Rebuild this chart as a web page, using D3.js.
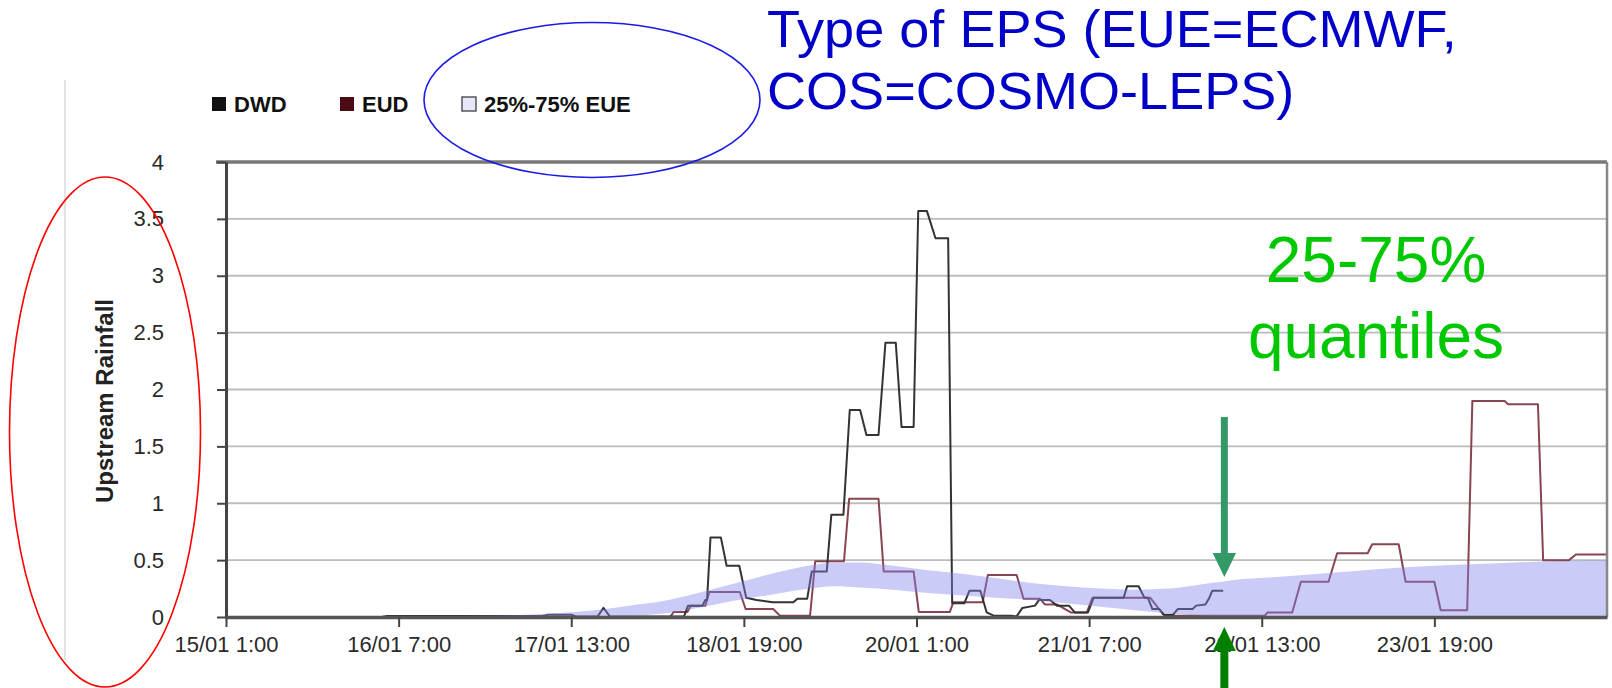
<!DOCTYPE html>
<html><head><meta charset="utf-8">
<script src="https://cdn.jsdelivr.net/npm/d3@7"></script>
<style>html,body{margin:0;padding:0;background:#fff;overflow:hidden}</style>
</head><body><svg id="c" width="1612" height="688"></svg>
<script>
// ---- data (hours since 15/01 1:00) ----
const xTickHours = [0, 30, 60, 90, 120, 150, 180, 210];
const xTickLabels = ["15/01 1:00", "16/01 7:00", "17/01 13:00", "18/01 19:00", "20/01 1:00", "21/01 7:00", "22/01 13:00", "23/01 19:00"];
const yTickValues = [0, 0.5, 1, 1.5, 2, 2.5, 3, 3.5, 4];
const yTickLabels = ["0", "0.5", "1", "1.5", "2", "2.5", "3", "3.5", "4"];
const seriesNames = ["DWD", "EUD", "25%-75% EUE"];
const yTitle = "Upstream Rainfall";

const dwdHours = [0, 27, 28, 55, 56, 60, 60.8, 64.6, 65.6, 66.7, 79.6, 80.3, 82.8, 83.3, 83.6, 84.2, 86.0, 87.0, 89.2, 90.4, 92.2, 95.0, 98.6, 99.3, 101.0, 101.8, 104.4, 105.2, 107.3, 108.4, 110.2, 111.3, 113.4, 114.6, 116.4, 117.4, 119.5, 120.3, 121.8, 123.3, 125.5, 126.2, 128.3, 129.2, 131.1, 132.2, 133.5, 136.5, 137.4, 138.4, 140.6, 141.3, 143.2, 144.4, 146.5, 147.5, 149.8, 150.8, 156.0, 156.6, 158.6, 159.6, 160.2, 161.0, 162.2, 163.0, 164.6, 165.4, 168.0, 168.6, 170.2, 170.8, 171.4, 173.3];
const dwdValues = [0, 0, 0.008, 0.008, 0.02, 0.02, 0.005, 0.005, 0.08, 0.005, 0.005, 0.1, 0.1, 0.15, 0.15, 0.70, 0.70, 0.45, 0.45, 0.17, 0.15, 0.13, 0.13, 0.16, 0.16, 0.40, 0.40, 0.90, 0.90, 1.82, 1.82, 1.60, 1.60, 2.41, 2.41, 1.67, 1.67, 3.57, 3.57, 3.33, 3.33, 0.12, 0.12, 0.23, 0.23, 0.04, 0.01, 0.01, 0.005, 0.08, 0.1, 0.15, 0.15, 0.1, 0.1, 0.04, 0.04, 0.17, 0.17, 0.27, 0.27, 0.17, 0.17, 0.07, 0.07, 0.02, 0.02, 0.07, 0.07, 0.1, 0.11, 0.16, 0.23, 0.23];

const eudHours = [0, 77.2, 77.8, 80.2, 80.8, 83.3, 84.0, 89.3, 90.3, 95.1, 96.3, 101.5, 102.4, 107.4, 108.3, 113.4, 114.3, 119.5, 120.4, 125.8, 126.4, 131.5, 132.4, 137.4, 138.6, 141.5, 142.3, 144.4, 146.8, 149.6, 150.6, 160.6, 162.9, 165.0, 180.5, 181.0, 185.3, 186.8, 191.6, 193.1, 198.4, 199.2, 203.8, 205.0, 210.0, 211.1, 215.7, 216.6, 222.2, 222.8, 228.0, 228.9, 233.4, 234.6, 240];
const eudValues = [0, 0, 0.045, 0.045, 0.1, 0.1, 0.22, 0.22, 0.07, 0.07, 0.01, 0.01, 0.49, 0.49, 1.04, 1.04, 0.40, 0.40, 0.045, 0.045, 0.13, 0.13, 0.37, 0.37, 0.16, 0.16, 0.11, 0.11, 0.04, 0.04, 0.17, 0.17, 0.02, 0.01, 0.01, 0.04, 0.04, 0.31, 0.31, 0.56, 0.56, 0.64, 0.64, 0.31, 0.31, 0.06, 0.06, 1.90, 1.90, 1.87, 1.87, 0.50, 0.50, 0.55, 0.55];

const bandHours = [0, 20, 40, 52, 58, 64, 70, 76, 82, 88, 94, 100, 106, 110, 116, 122, 128, 134, 140, 146, 152, 158, 164, 170, 176, 182, 190, 200, 210, 220, 230, 240];
const bandLow = [0, 0, 0, 0, 0, 0.005, 0.01, 0.03, 0.08, 0.14, 0.19, 0.24, 0.27, 0.26, 0.24, 0.21, 0.19, 0.17, 0.15, 0.12, 0.09, 0.06, 0.03, 0.01, 0, 0, 0, 0, 0, 0, 0, 0];
const bandHigh = [0, 0.003, 0.008, 0.02, 0.035, 0.06, 0.10, 0.14, 0.21, 0.29, 0.37, 0.44, 0.48, 0.48, 0.45, 0.41, 0.38, 0.34, 0.30, 0.27, 0.25, 0.24, 0.25, 0.29, 0.33, 0.35, 0.38, 0.42, 0.45, 0.47, 0.49, 0.50];

const forecastStartHour = 173.5;
const noteEps = ["Type of EPS (EUE=ECMWF,", "COS=COSMO-LEPS)"];
const noteQuant = ["25-75%", "quantiles"];

// ---- drawing ----
const FONT = "'Liberation Sans', Arial, Helvetica, sans-serif";
const svg = d3.select("#c");
const x = d3.scaleLinear().domain([0, 240]).range([226, 1607]);
const y = d3.scaleLinear().domain([0, 4]).range([617, 162]);

// window edge line
svg.append("line").attr("x1", 65).attr("x2", 65).attr("y1", 80).attr("y2", 660)
  .attr("stroke", "#e3e3e3").attr("stroke-width", 2);

// gridlines
svg.append("g").selectAll("line").data(yTickValues.filter(v => v > 0 && v < 4)).join("line")
  .attr("x1", x(0)).attr("x2", x(240)).attr("y1", d => y(d)).attr("y2", d => y(d))
  .attr("stroke", "#bcbcbc").attr("stroke-width", 1.8);

const lineGen = (hrs) => d3.line().x((d, i) => x(hrs[i])).y(d => y(d));

svg.append("path").datum(eudValues).attr("d", lineGen(eudHours))
  .attr("fill", "none").attr("stroke", "#874550").attr("stroke-width", 2).attr("stroke-linejoin", "round");
svg.append("path").datum(dwdValues).attr("d", lineGen(dwdHours))
  .attr("fill", "none").attr("stroke", "#333").attr("stroke-width", 2).attr("stroke-linejoin", "round");

// band (semi-transparent, over the lines)
const area = d3.area().x((d, i) => x(bandHours[i])).y0((d, i) => y(bandLow[i])).y1(d => y(d)).curve(d3.curveMonotoneX);
svg.append("path").datum(bandHigh).attr("d", area)
  .attr("fill", "rgb(130,130,235)").attr("fill-opacity", 0.42);

// frame
svg.append("line").attr("x1", 216).attr("x2", x(240)).attr("y1", y(4)).attr("y2", y(4))
  .attr("stroke", "#777").attr("stroke-width", 3.5);
svg.append("line").attr("x1", x(240)).attr("x2", x(240)).attr("y1", y(4)).attr("y2", y(0))
  .attr("stroke", "#888").attr("stroke-width", 2.5);

// y axis
const yAxis = svg.append("g").attr("transform", `translate(${x(0)},0)`)
  .call(d3.axisLeft(y).tickValues(yTickValues).tickFormat((d, i) => yTickLabels[i]).tickSize(9).tickPadding(53).tickSizeOuter(0));
yAxis.select(".domain").attr("stroke", "#444").attr("stroke-width", 3);
yAxis.selectAll(".tick line").attr("stroke", "#444").attr("stroke-width", 2);
yAxis.selectAll("text").attr("font-family", FONT).attr("font-size", 22).attr("fill", "#2a2a2a");

// x axis
const xAxis = svg.append("g").attr("transform", `translate(0,${y(0)})`)
  .call(d3.axisBottom(x).tickValues(xTickHours).tickFormat((d, i) => xTickLabels[i]).tickSize(10).tickPadding(9).tickSizeOuter(0));
xAxis.select(".domain").attr("stroke", "#555").attr("stroke-width", 3.5);
xAxis.selectAll(".tick line").attr("stroke", "#444").attr("stroke-width", 2);
xAxis.selectAll("text").attr("font-family", FONT).attr("font-size", 22).attr("fill", "#2a2a2a");

// y title
svg.append("text").attr("transform", "translate(113,401) rotate(-90)")
  .attr("text-anchor", "middle").attr("font-family", FONT).attr("font-weight", "bold")
  .attr("font-size", 24).attr("fill", "#222").text(yTitle);

// legend
const legX = [212, 340, 462];
const legFill = ["#111", "#4a0c12", "#e6e6f6"];
const leg = svg.append("g");
seriesNames.forEach((name, i) => {
  leg.append("rect").attr("x", legX[i]).attr("y", 97).attr("width", 14).attr("height", 14)
    .attr("fill", legFill[i]).attr("stroke", i === 2 ? "#555" : "none").attr("stroke-width", 1.5);
  leg.append("text").attr("x", legX[i] + 22).attr("y", 111.5)
    .attr("font-family", FONT).attr("font-weight", "bold").attr("font-size", 22).attr("fill", "#111").text(name);
});

// annotations
svg.append("ellipse").attr("cx", 592).attr("cy", 100).attr("rx", 168).attr("ry", 77.5)
  .attr("fill", "none").attr("stroke", "#1a1ae6").attr("stroke-width", 1.6);
svg.append("ellipse").attr("cx", 105).attr("cy", 432).attr("rx", 95.5).attr("ry", 255)
  .attr("fill", "none").attr("stroke", "#ff0000").attr("stroke-width", 1.6);

const eps = svg.append("text").attr("transform", "translate(767,0) scale(1.04,1)")
  .attr("font-family", FONT).attr("font-size", 52).attr("fill", "#0000c8");
eps.append("tspan").attr("x", 0).attr("y", 47).text(noteEps[0]);
eps.append("tspan").attr("x", 0).attr("y", 109).text(noteEps[1]);

const q = svg.append("text").attr("font-family", FONT).attr("font-size", 64).attr("fill", "#00c800").attr("text-anchor", "middle");
q.append("tspan").attr("x", 1376).attr("y", 282).text(noteQuant[0]);
q.append("tspan").attr("x", 1376).attr("y", 358).text(noteQuant[1]);

// arrows at forecast start
const ax = x(forecastStartHour);
svg.append("rect").attr("x", ax - 3.5).attr("y", 417).attr("width", 7).attr("height", 137).attr("fill", "#339966");
svg.append("path").attr("d", `M${ax - 11.7},553 L${ax + 11.7},553 L${ax},577 Z`).attr("fill", "#339966");
svg.append("path").attr("d", `M${ax},627 L${ax + 11.5},651 L${ax - 11.5},651 Z`).attr("fill", "#008000");
svg.append("rect").attr("x", ax - 4).attr("y", 650).attr("width", 8).attr("height", 38).attr("fill", "#008000");
</script>
</body></html>
